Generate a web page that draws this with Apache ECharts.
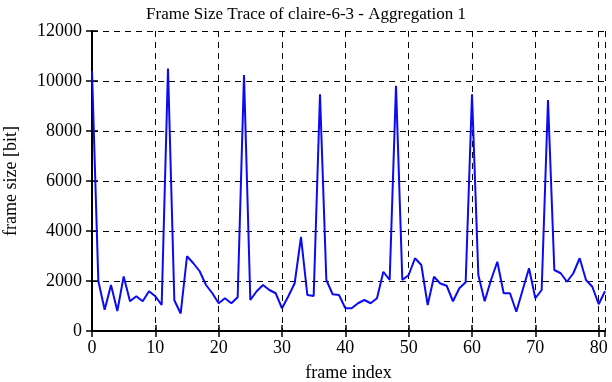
<!DOCTYPE html>
<html>
<head>
<meta charset="utf-8">
<script src="https://cdn.jsdelivr.net/npm/echarts@6/dist/echarts.min.js"></script>
<style>
  html, body { margin: 0; padding: 0; background: #fff; }
  #main { width: 612px; height: 382px; }
</style>
</head>
<body>
<div id="main"></div>
<script>
// frame sizes in bit, one per frame index 0..81
var frameSizes = [
  10400, 2000, 850, 1840, 800, 2180, 1190, 1390, 1190, 1590,
  1390, 1040, 10500, 1230, 700, 2990, 2710, 2390, 1840, 1510,
  1110, 1310, 1110, 1350, 10240, 1240, 1590, 1840, 1640, 1510,
  910, 1390, 1910, 3760, 1440, 1400, 9470, 2040, 1470, 1440,
  910, 910, 1110, 1240, 1110, 1310, 2370, 2040, 9810, 2040,
  2240, 2910, 2640, 1040, 2170, 1900, 1810, 1190, 1710, 1950,
  9470, 2240, 1190, 2040, 2770, 1510, 1510, 770, 1640, 2510,
  1310, 1640, 9240, 2440, 2310, 1970, 2310, 2910, 2040, 1770,
  1070, 1590
];
var chartTitle = 'Frame Size Trace of claire-6-3 - Aggregation 1';
var xName = 'frame index';
var yName = 'frame size [bit]';

var points = frameSizes.map(function (v, i) { return [i, v]; });

var font = 'Liberation Serif';
var dashed = { color: '#000', width: 1, type: [6, 5] };

var myChart = echarts.init(document.getElementById('main'));
myChart.setOption({
  animation: false,
  backgroundColor: '#fff',
  title: {
    text: chartTitle,
    left: 'center',
    top: 1,
    textStyle: { fontFamily: font, fontSize: 17, fontWeight: 'normal', color: '#000' }
  },
  grid: { left: 92, right: 7, top: 31, bottom: 51, outerBoundsMode: 'none' },
  xAxis: [
    {
      type: 'value',
      min: 0,
      max: 81,
      interval: 10,
      name: xName,
      nameLocation: 'middle',
      nameGap: 33,
      nameTextStyle: { fontFamily: font, fontSize: 18, color: '#000' },
      axisLine: { lineStyle: { color: '#000', width: 2 } },
      axisTick: { inside: true, length: 6, lineStyle: { color: '#000', width: 1.5 } },
      axisLabel: { fontFamily: font, fontSize: 18, color: '#000', margin: 8, showMaxLabel: false },
      splitLine: { show: true, lineStyle: dashed }
    },
    {
      type: 'value',
      position: 'top',
      min: 0,
      max: 81,
      interval: 10,
      axisLine: { lineStyle: { color: '#000', width: 2 } },
      axisTick: { inside: true, length: 6, lineStyle: { color: '#000', width: 1.5 } },
      axisLabel: { show: false },
      splitLine: { show: false }
    }
  ],
  yAxis: [
    {
      type: 'value',
      min: 0,
      max: 12000,
      interval: 2000,
      name: yName,
      nameLocation: 'middle',
      nameGap: 72,
      nameTextStyle: { fontFamily: font, fontSize: 18, color: '#000' },
      axisLine: { show: true, lineStyle: { color: '#000', width: 2 } },
      axisTick: { show: true, inside: true, length: 6, lineStyle: { color: '#000', width: 1.5 } },
      axisLabel: {
        fontFamily: font, fontSize: 18, color: '#000', margin: 10,
        formatter: function (v) { return String(v); }
      },
      splitLine: { show: true, lineStyle: dashed }
    },
    {
      type: 'value',
      position: 'right',
      min: 0,
      max: 12000,
      interval: 2000,
      axisLine: { show: true, lineStyle: { color: '#000', width: 2 } },
      axisTick: { show: true, inside: true, length: 6, lineStyle: { color: '#000', width: 1.5 } },
      axisLabel: { show: false },
      splitLine: { show: false }
    }
  ],
  series: [
    {
      name: yName,
      type: 'line',
      data: points,
      showSymbol: false,
      lineStyle: { color: '#0a0af5', width: 2 },
      z: 5
    }
  ]
});
</script>
</body>
</html>
